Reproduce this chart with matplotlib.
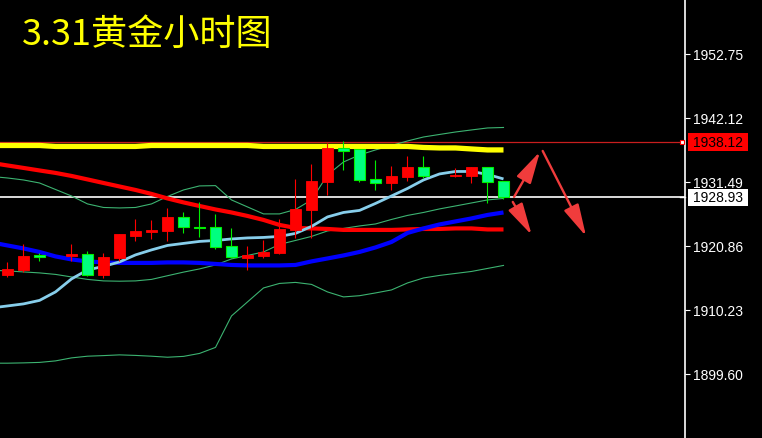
import numpy as np
import matplotlib
matplotlib.use("Agg")
import matplotlib.pyplot as plt
import matplotlib.transforms as mtransforms
from matplotlib.patches import Rectangle

nan = np.nan

# hourly gold candles, bar -1 is off screen (missing bars left as nan)
opens = [nan, 1916.09, 1916.87, 1919.37, nan, 1919.20, 1919.53, 1916.04, 1918.87, 1922.52, 1923.24,
         1923.35, 1925.68, 1924.07, 1924.02, 1920.86, 1918.92, 1919.20, 1919.70, 1923.57, 1926.89,
         1931.54, 1937.14, 1936.97, 1931.99, 1931.32, 1932.37, 1933.98, nan, 1932.49, 1932.49,
         1933.98, 1931.66]
highs = [nan, 1918.20, 1921.19, 1919.70, nan, 1921.19, 1920.03, 1919.70, 1922.85, 1925.34, 1925.18,
         1927.17, 1926.51, 1928.17, 1926.18, 1923.85, 1920.91, 1921.86, 1925.34, 1931.99, 1934.48,
         1937.97, 1938.30, 1936.97, 1935.14, 1934.15, 1935.81, 1935.81, nan, 1933.82, 1933.98,
         1933.98, 1931.66]
lows = [nan, 1915.76, 1916.49, 1918.42, nan, 1918.42, 1915.83, 1915.50, 1918.42, 1921.69, 1922.02,
        1921.69, 1923.07, 1922.40, 1920.36, 1918.82, 1916.92, 1918.87, 1919.53, 1922.24, 1922.24,
        1929.38, 1933.48, 1931.54, 1930.16, 1930.16, 1931.71, 1932.15, nan, 1932.32, 1931.32,
        1928.05, 1928.67]
closes = [nan, 1917.04, 1919.20, 1919.08, nan, 1919.53, 1916.04, 1919.03, 1922.85, 1923.35, 1923.47,
          1925.68, 1924.07, 1923.85, 1920.74, 1919.08, 1919.37, 1919.86, 1923.68, 1927.01, 1931.66,
          1937.14, 1936.69, 1931.87, 1931.37, 1932.49, 1933.98, 1932.54, nan, 1932.70, 1933.98,
          1931.54, 1928.93]

# moving averages
ma_yellow = [1937.55, 1937.55, 1937.55, 1937.55, 1937.39, 1937.39, 1937.39, 1937.39, 1937.39, 1937.39,
             1937.55, 1937.55, 1937.55, 1937.55, 1937.55, 1937.55, 1937.55, 1937.39, 1937.39, 1937.39,
             1937.39, 1937.39, 1937.39, 1937.39, 1937.39, 1937.39, 1937.39, 1937.22, 1937.14, 1937.14,
             1936.97, 1936.81, 1936.81]
ma_red = [1934.65, 1934.23, 1933.82, 1933.40, 1932.99, 1932.49, 1931.91, 1931.32, 1930.74, 1930.16,
          1929.50, 1928.75, 1928.09, 1927.50, 1926.92, 1926.42, 1925.84, 1925.18, 1924.35, 1923.85,
          1923.77, 1923.68, 1923.52, 1923.52, 1923.52, 1923.52, 1923.60, 1923.68, 1923.68, 1923.77,
          1923.77, 1923.60, 1923.60]
ma_blue = [1921.44, 1920.94, 1920.44, 1919.86, 1919.12, 1918.62, 1918.29, 1918.12, 1918.04, 1918.04,
           1918.04, 1918.12, 1918.12, 1918.04, 1917.87, 1917.70, 1917.62, 1917.62, 1917.62, 1917.70,
           1918.29, 1918.78, 1919.28, 1919.86, 1920.61, 1921.52, 1923.02, 1923.77, 1924.43, 1924.93,
           1925.43, 1926.01, 1926.42]
ma_light = [1910.56, 1910.89, 1911.23, 1911.81, 1913.22, 1915.38, 1916.87, 1917.46, 1918.20, 1919.37,
            1920.20, 1920.94, 1921.28, 1921.61, 1921.77, 1922.02, 1922.19, 1922.27, 1922.44, 1922.94,
            1924.10, 1925.68, 1926.42, 1926.76, 1927.92, 1929.16, 1930.41, 1931.82, 1932.82, 1933.23,
            1933.23, 1932.74, 1931.99]

# bollinger bands
bb_upper = [1932.40, 1932.15, 1931.82, 1931.32, 1930.24, 1929.16, 1927.84, 1927.25, 1927.17, 1927.25,
            1927.84, 1929.08, 1930.16, 1930.83, 1930.88, 1928.50, 1927.34, 1926.18, 1926.18, 1926.92,
            1928.50, 1932.65, 1934.81, 1935.97, 1936.81, 1937.55, 1938.30, 1938.96, 1939.38, 1939.79,
            1940.13, 1940.46, 1940.54]
bb_mid = [1916.82, 1916.71, 1916.54, 1916.38, 1916.13, 1915.71, 1915.30, 1915.05, 1915.00, 1915.05,
          1915.30, 1915.91, 1916.51, 1917.04, 1917.70, 1918.70, 1919.28, 1919.86, 1921.11, 1921.77,
          1922.44, 1923.35, 1923.77, 1924.18, 1924.51, 1925.26, 1925.93, 1926.42, 1927.01, 1927.50,
          1928.00, 1928.50, 1928.75]
bb_lower = [1901.38, 1901.38, 1901.43, 1901.51, 1901.76, 1902.26, 1902.54, 1902.64, 1902.76, 1902.67,
            1902.54, 1902.37, 1902.51, 1903.00, 1904.00, 1909.23, 1911.56, 1913.88, 1914.63, 1914.80,
            1914.47, 1913.22, 1912.39, 1912.59, 1913.05, 1913.55, 1914.71, 1915.54, 1915.96, 1916.29,
            1916.62, 1917.12, 1917.62]

# price axis
tick_values = [1952.75, 1942.12, 1931.49, 1920.86, 1910.23, 1899.60]
level_price = 1938.12
last_price = 1928.93

# forecast arrows: (start bar, start price, end bar, end price)
arrows = [
    (31.66, 1929.00, 33.28, 1936.52),
    (31.58, 1928.17, 32.76, 1922.69),
    (33.45, 1936.64, 36.16, 1922.47),
]

title = "3.31黄金小时图"

# ---------------------------------------------------------------
W, H = 762, 439
fig = plt.figure(figsize=(W / 100, H / 100), dpi=100, facecolor="black")
ax = fig.add_axes([0, 0, 685 / W, 1])
ax.set_facecolor("black")

x = np.arange(len(closes)) - 1

# indicator lines
ax.plot(x, bb_upper, color="#3cb371", lw=0.8, zorder=2)
ax.plot(x, bb_mid, color="#3cb371", lw=0.8, zorder=2)
ax.plot(x, bb_lower, color="#3cb371", lw=0.8, zorder=2)
ax.plot(x, ma_yellow, color="#ffff00", lw=3.8, zorder=2, solid_capstyle="butt")
ax.plot(x, ma_red, color="#ff0000", lw=3.0, zorder=2, solid_capstyle="butt")
ax.plot(x, ma_blue, color="#0000ff", lw=3.0, zorder=2, solid_capstyle="butt")
ax.plot(x, ma_light, color="#87ceeb", lw=2.0, zorder=2, solid_capstyle="butt")

# candles
o = np.array(opens)
h = np.array(highs)
l = np.array(lows)
c = np.array(closes)
ok = ~np.isnan(c)
up = ok & (c >= o)
dn = ok & (c < o)

ax.vlines(x[up], l[up], h[up], color="#ff0000", lw=0.8, zorder=3)
ax.vlines(x[dn], l[dn], h[dn], color="#00ee00", lw=0.8, zorder=3)
ax.bar(x[up], c[up] - o[up], bottom=o[up], width=0.66, color="#ff0000",
       edgecolor="#ff0000", linewidth=0.6, zorder=4)
ax.bar(x[dn], o[dn] - c[dn], bottom=c[dn], width=0.66, color="#00ff7f",
       edgecolor="#00ee00", linewidth=0.8, zorder=4)

# horizontal price lines
ax.axhline(level_price, color="#c81e1e", lw=0.9, zorder=1)
ax.axhline(last_price, color="white", lw=1.2, zorder=1)

# arrows
for x0, y0, x1, y1 in arrows:
    ax.annotate("", xy=(x1, y1), xytext=(x0, y0),
                arrowprops=dict(arrowstyle="-|>,head_length=1.4,head_width=0.35",
                                color="#f03c3c", lw=1.7, mutation_scale=14,
                                shrinkA=0, shrinkB=0), zorder=5)

ax.set_xlim(-0.46875, 42.34375)
ax.set_ylim(1888.95, 1961.885)

# right price axis
for side in ["top", "bottom", "left"]:
    ax.spines[side].set_visible(False)
ax.spines["right"].set_color("white")
ax.spines["right"].set_linewidth(1.2)
ax.set_xticks([])
ax.yaxis.tick_right()
ax.set_yticks(tick_values)
ax.set_yticklabels([f"{v:.2f}" for v in tick_values])
ax.tick_params(axis="y", colors="white", length=3.5, width=0.8, pad=2,
               labelsize=10, labelcolor="white")
for lab in ax.get_yticklabels():
    lab.set_fontfamily("Liberation Sans")

# price tags on the axis
trans = mtransforms.blended_transform_factory(fig.transFigure, ax.transData)
for price, bg in [(level_price, "#ff0000"), (last_price, "white")]:
    ax.add_patch(Rectangle((688 / W, price - 1.42), 60 / W, 2.84, transform=trans,
                           facecolor=bg, edgecolor="none", clip_on=False, zorder=6))
    ax.text(718 / W, price, f"{price:.2f}", transform=trans, color="black",
            fontsize=10, family="Liberation Sans", ha="center", va="center",
            clip_on=False, zorder=7)

trans_ax = mtransforms.blended_transform_factory(ax.transAxes, ax.transData)
ax.plot([1 - 3 / 685], [level_price], marker="s", ms=3.5, mfc="white", mec="red",
        mew=0.8, transform=trans_ax, clip_on=False, zorder=8)
ax.plot([1 - 5 / 685, 1], [last_price, last_price], color="white", lw=1,
        transform=trans_ax, clip_on=False, zorder=8)

# title
fig.text(22 / W, 1 - 35 / H, title, color="#ffff00", fontsize=26,
         family=["Noto Sans CJK SC", "DejaVu Sans"], ha="left", va="center")

fig.savefig("out.png", dpi=100, facecolor="black")
